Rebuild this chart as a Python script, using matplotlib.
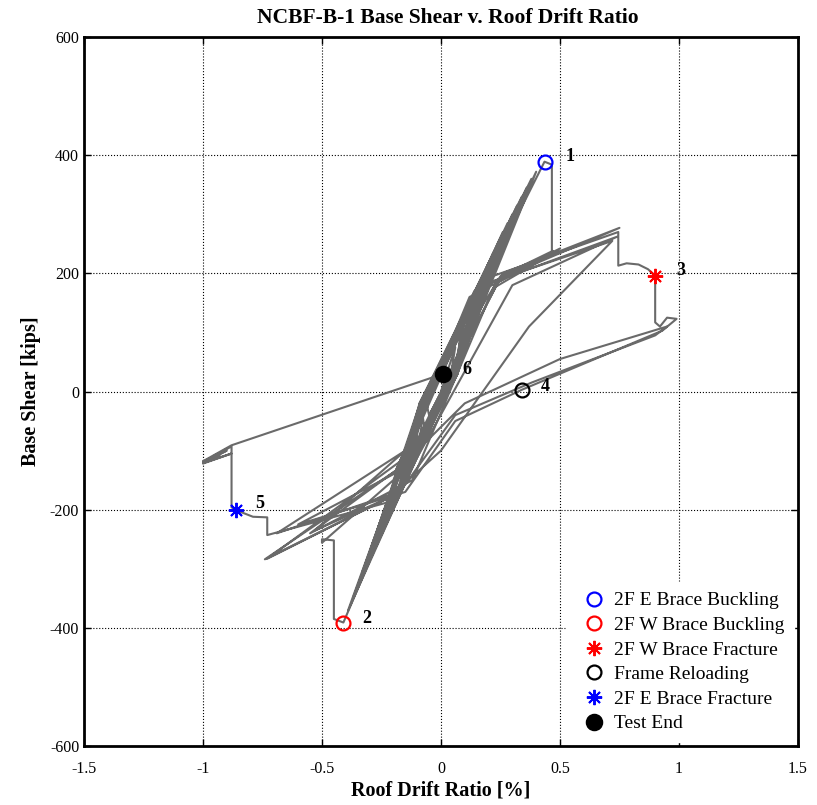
import matplotlib
matplotlib.use("Agg")
import matplotlib.pyplot as plt
from matplotlib.lines import Line2D
import numpy as np

plt.rcParams["font.family"] = ["Liberation Serif", "DejaVu Serif"]
plt.rcParams["axes.unicode_minus"] = False

# --- hysteresis path (roof drift [%], base shear [kips]) ---
# small elastic cycles forming the dense band
band_d = [0.00, 0.06, 0.042, -0.05, -0.061, 0.08, 0.065, -0.07, -0.085, 0.10, 0.052, -0.09, -0.071,
          0.12, 0.07, -0.11, -0.09, 0.14, 0.047, -0.13, -0.066, 0.16, 0.057, -0.15, -0.078,
          0.18, 0.062, -0.17, -0.085, 0.20, 0.042, -0.19, -0.061, 0.22, 0.07, -0.21, -0.09,
          0.24, 0.052, -0.23, -0.071, 0.26, 0.062, -0.25, -0.083, 0.28, 0.047, -0.27, -0.066,
          0.30, 0.057, -0.29, -0.078, 0.32, 0.067, -0.31, -0.088, 0.34, 0.052, -0.33, -0.071,
          0.36, 0.062, -0.35, -0.083, 0.38, 0.042, -0.37, -0.061, 0.40, 0.057, -0.39, -0.076,
          0.435]
band_v = [0, 75, 30, -40, -20, 95, 30, -60, -20, 120, 30, -85, -20,
          135, 30, -100, -20, 160, 30, -118, -20, 175, 30, -140, -20,
          200, 30, -150, -20, 210, 30, -175, -20, 235, 30, -190, -20,
          250, 30, -205, -20, 270, 30, -225, -20, 285, 30, -245, -20,
          300, 30, -260, -20, 315, 30, -285, -20, 330, 30, -305, -20,
          345, 30, -330, -20, 360, 30, -350, -20, 372, 30, -370, -20,
          389]

# brace buckling events 1 and 2
buckle_d = [0.466, 0.466, 0.47, 0.25, 0.12, -0.41, -0.45, -0.45, -0.50, -0.50]
buckle_v = [384, 233, 238, 195, 110, -391, -385, -252, -250, -256]

# cycles to about 0.5 %
mid_d = [-0.20, 0.12, 0.48, 0.22, -0.12, -0.55, -0.19, 0.14, 0.50, 0.24, -0.22, -0.53, -0.15, 0.16]
mid_v = [-150, 160, 236, 175, -150, -240, -134, 170, 242, 185, -180, -235, -100, 176]

# cycles to about 0.75 %
large_d = [0.75, 0.26, 0.05, -0.22, -0.74, -0.19, 0.15, 0.74, 0.30, -0.18, -0.69, -0.15,
           0.17, 0.72, 0.37, 0.00, -0.22, -0.73, -0.15, 0.18, 0.745]
large_v = [277, 200, 40, -180, -284, -134, 175, 262, 180, -170, -240, -100,
           180, 255, 110, -100, -180, -283, -112, 190, 270]

# W brace fracture (3), reloading (4), E brace fracture (5), test end (6)
post_d = [0.745, 0.78, 0.83, 0.87, 0.90, 0.90, 0.92, 0.95, 0.99, 0.93, 0.34, 0.06, -0.15,
          -0.60, -0.20, 0.10, 0.50, 0.95, 0.90, 0.38, 0.06, -0.20, -0.73, -0.73, -0.79,
          -0.86, -0.88, -0.88, -0.95, -1.00, -0.88, -1.00, -0.90, -1.00, -0.93, -1.00,
          -0.88, 0.01]
post_v = [213, 217, 215, 207, 196, 117, 110, 125, 123, 103, 3, -50, -170,
          -225, -140, -20, 55, 110, 95, 15, -40, -185, -243, -213, -212,
          -201, -196, -93, -108, -122, -105, -121, -100, -119, -108, -118,
          -91, 30]

# event markers
ev_labels = ["1", "2", "3", "4", "5", "6"]
ev_d = [0.435, -0.41, 0.90, 0.34, -0.86, 0.01]
ev_v = [389, -391, 196, 3, -201, 30]
ev_names = ["2F E Brace Buckling", "2F W Brace Buckling", "2F W Brace Fracture",
            "Frame Reloading", "2F E Brace Fracture", "Test End"]

drift = np.concatenate([band_d, buckle_d, mid_d, large_d, post_d])
shear = np.concatenate([band_v, buckle_v, mid_v, large_v, post_v])

fig = plt.figure(figsize=(8.17, 8.05), dpi=100)
ax = fig.add_axes([0.1028, 0.0733, 0.8739, 0.8807])

ax.plot(drift, shear, color="#6a6a6a", lw=1.5, zorder=2)

styles = [
    dict(marker="o", mfc="none", mec="blue", ms=10, mew=1.6),
    dict(marker="o", mfc="none", mec="red", ms=10, mew=1.6),
    dict(marker=(8, 2, 0), color="red", mec="red", ms=11, mew=1.4),
    dict(marker="o", mfc="none", mec="black", ms=10, mew=1.6),
    dict(marker=(8, 2, 0), color="blue", mec="blue", ms=11, mew=1.4),
    dict(marker="o", mfc="black", mec="black", ms=11, mew=1.6),
]
handles = []
for d, v, name, st in zip(ev_d, ev_v, ev_names, styles):
    ax.plot([d], [v], ls="none", zorder=4, **st)
    handles.append(Line2D([], [], ls="none", label=name, **st))

lab_off = [(0.09, 9), (0.08, 6), (0.09, 9), (0.08, 5), (0.08, 11), (0.08, 8)]
for lab, d, v, (dx, dv) in zip(ev_labels, ev_d, ev_v, lab_off):
    ax.text(d + dx, v + dv, lab, fontsize=13, fontweight="bold", ha="left", va="center", zorder=5)

ax.set_xlim(-1.5, 1.5)
ax.set_ylim(-600, 600)
ax.set_xticks([-1.5, -1, -0.5, 0, 0.5, 1, 1.5])
ax.set_xticklabels(["-1.5", "-1", "-0.5", "0", "0.5", "1", "1.5"])
ax.set_yticks([-600, -400, -200, 0, 200, 400, 600])
ax.grid(True, color="black", ls=":", lw=0.8)
ax.tick_params(direction="in", top=True, right=True, length=5, width=1, labelsize=11.5)
ax.tick_params(axis="x", pad=11)
for s in ax.spines.values():
    s.set_linewidth(2.0)

ax.set_title("NCBF-B-1 Base Shear v. Roof Drift Ratio", fontsize=15.5, fontweight="bold",
             pad=10, x=0.51)
ax.set_xlabel("Roof Drift Ratio [%]", fontsize=14.5, fontweight="bold", labelpad=2)
ax.set_ylabel("Base Shear [kips]", fontsize=14.5, fontweight="bold", labelpad=6)

leg = ax.legend(handles=handles, loc="lower right", fontsize=14, frameon=True,
                facecolor="white", edgecolor="white", framealpha=1, borderaxespad=0.2,
                handletextpad=0.15, labelspacing=0.36, borderpad=0.5, handlelength=1.8)
leg.set_zorder(6)

fig.savefig("out.png", dpi=100)
